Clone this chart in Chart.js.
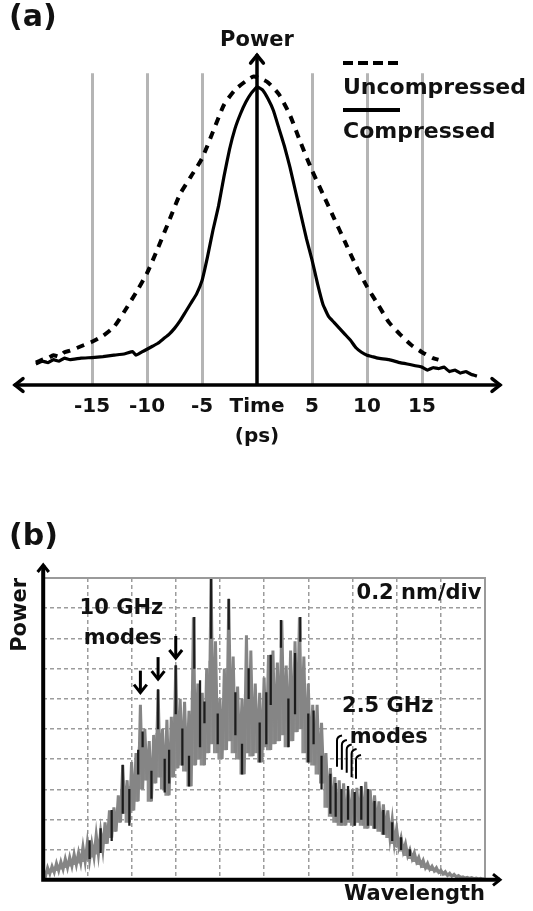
<!DOCTYPE html>
<html>
<head>
<meta charset="utf-8">
<script src="https://cdn.jsdelivr.net/npm/chart.js@4.4.1/dist/chart.umd.min.js"></script>
<style>
body{margin:0;background:#fff;}
#boxA{position:absolute;left:0;top:0;width:533px;height:465px;}
#boxB{position:absolute;left:0;top:465px;width:533px;height:446px;}
</style>
</head>
<body>
<div id="boxA"><canvas id="chartA"></canvas></div>
<div id="boxB"><canvas id="chartB"></canvas></div>
<script>
// ---- panel (a): pulse traces, time in ps, power relative to compressed peak
var timeTicks = [-15, -10, -5, 0, 5, 10, 15];
var timeLabels = ["-15", "-10", "-5", "Time", "5", "10", "15"];

var compT = [-20.1,-19.5,-19,-18.5,-18,-17.5,-17,-16,-15,-14,-13,-12,-11.3,-11,-10.5,-10,-9.5,-9,-8.5,-8,-7.5,-7,-6.5,-6,-5.5,-5,-4.5,-4,-3.5,-3,-2.5,-2,-1.5,-1,-0.5,0,0.5,1,1.5,2,2.5,3,3.5,4,4.5,5,5.5,6,6.5,7,7.5,8,8.5,9,9.5,10,10.5,11,12,13,14,15,15.5,16,16.5,17,17.5,18,18.5,19,19.5,20];
var compP = [0.07,0.08,0.075,0.085,0.08,0.09,0.085,0.09,0.092,0.095,0.1,0.105,0.112,0.1,0.11,0.12,0.13,0.14,0.155,0.17,0.19,0.215,0.245,0.275,0.305,0.35,0.43,0.52,0.6,0.7,0.79,0.86,0.91,0.95,0.98,1.0,0.99,0.96,0.92,0.86,0.8,0.73,0.65,0.57,0.49,0.42,0.34,0.27,0.23,0.21,0.19,0.17,0.15,0.125,0.11,0.1,0.095,0.09,0.085,0.075,0.068,0.06,0.05,0.058,0.055,0.06,0.045,0.05,0.04,0.045,0.035,0.03];

var uncompT = [-20.1,-19.5,-19,-18.5,-18,-17.5,-17,-16,-15,-14,-13,-12,-11,-10,-9,-8,-7,-6,-5,-4,-3,-2,-1,-0.3,0.5,1,2,3,4,5,6,7,8,9,10,11,12,13,14,15,16,16.5];
var uncompP = [0.075,0.085,0.09,0.1,0.095,0.11,0.115,0.13,0.145,0.165,0.195,0.25,0.31,0.375,0.46,0.55,0.64,0.7,0.76,0.85,0.94,0.99,1.02,1.035,1.025,1.015,0.975,0.905,0.81,0.72,0.64,0.56,0.48,0.4,0.33,0.27,0.21,0.17,0.135,0.11,0.09,0.085];

// ---- panel (b): optical spectrum, both axes in grid divisions
// specHigh = mode peaks at specX, specLow = trough just after each peak
var specX = [0,0.1,0.2,0.3,0.4,0.5,0.6,0.7,0.8,0.9,1,1.1,1.2,1.3,1.4,1.5,1.6,1.7,1.8,1.9,2,2.1,2.2,2.3,2.4,2.5,2.6,2.7,2.8,2.9,3,3.1,3.2,3.3,3.4,3.5,3.6,3.7,3.8,3.9,4,4.1,4.2,4.3,4.4,4.5,4.6,4.7,4.8,4.9,5,5.1,5.2,5.3,5.4,5.5,5.6,5.7,5.8,5.9,6,6.1,6.2,6.3,6.4,6.5,6.6,6.7,6.8,6.9,7,7.1,7.2,7.3,7.4,7.5,7.6,7.7,7.8,7.9,8,8.1,8.2,8.3,8.4,8.5,8.6,8.7,8.8,8.9,9,9.1,9.2,9.3,9.4,9.5,9.6,9.7,9.8,9.9,10];
var specLow = [0.1,0.2,0.25,0.3,0.35,0.4,0.45,0.5,0.55,0.6,0.65,0.75,0.85,1.0,1.2,1.4,1.6,1.9,2.2,1.9,2.3,2.6,3.0,3.3,2.6,3.2,3.4,3.0,2.8,3.4,3.7,3.8,3.6,3.1,3.8,4.0,3.8,4.2,4.5,4.2,4.0,4.3,4.6,4.2,4.0,3.5,4.2,4.1,4.2,3.9,4.4,4.3,4.5,4.6,4.8,4.4,4.6,4.9,5.0,4.2,3.9,3.8,3.5,3.2,2.4,2.1,1.9,1.8,1.8,1.9,1.8,1.9,1.8,1.7,1.8,1.7,1.6,1.5,1.4,1.2,1.1,0.95,0.8,0.7,0.6,0.5,0.4,0.35,0.3,0.25,0.2,0.15,0.12,0.1,0.08,0.06,0.05,0.04,0.03,0.02,0.02];
var specHigh = [0.3,0.4,0.45,0.55,0.6,0.7,0.75,0.85,0.9,1.1,1.25,1.2,1.5,1.6,1.9,2.3,2.4,2.8,3.8,3.3,3.9,4.2,5.8,5.0,4.6,4.8,6.3,5.0,5.3,5.4,7.1,6.0,5.9,5.6,8.7,6.5,6.2,7.0,10.0,7.9,6.0,7.0,9.3,7.4,6.4,6.0,8.1,7.6,6.5,6.2,6.7,7.45,7.6,7.2,8.6,7.1,7.6,7.9,8.7,7.4,6.5,5.8,5.8,5.2,4.2,3.7,3.4,3.3,3.2,3.0,3.0,3.05,3.1,3.25,3.0,2.8,2.6,2.5,2.3,2.0,1.7,1.4,1.2,1.0,0.9,0.75,0.65,0.55,0.45,0.4,0.32,0.27,0.22,0.18,0.14,0.1,0.08,0.07,0.06,0.05,0.04];

var darkX = [1.05,1.3,1.55,1.8,1.95,2.15,2.25,2.45,2.6,2.75,2.85,3.0,3.15,3.3,3.42,3.55,3.65,3.8,3.95,4.2,4.35,4.5,4.65,4.9,5.05,5.15,5.38,5.55,5.7,5.82,6.0,6.12,6.3,6.5,6.62,6.75,6.9,7.05,7.2,7.35,7.5,7.7,7.9,8.1,8.3];
var darkLow = [0.7,0.9,1.3,2.2,1.8,3.5,4.4,2.7,5.0,2.9,3.2,5.5,3.8,3.1,7.0,4.4,5.2,8.0,4.5,8.3,4.8,3.5,6.0,3.9,4.5,5.8,7.7,4.4,5.5,7.9,3.9,4.5,3.0,2.2,2.1,1.9,2.0,1.8,2.0,1.8,1.7,1.5,1.3,1.0,0.8];
var darkHigh = [1.3,1.7,2.3,3.8,3.0,4.3,4.9,3.6,6.3,4.0,4.3,7.1,5.0,4.1,8.7,6.6,5.9,10.0,5.5,9.3,6.2,4.5,7.0,5.2,6.2,7.45,8.6,6.0,7.5,8.7,5.5,5.6,4.1,3.5,3.2,3.0,3.1,2.9,3.1,3.0,2.6,2.3,1.9,1.4,1.0];

// annotation anchors (data units)
var modeArrowX = [2.2, 2.6, 3.0];
var modeArrowTip = [6.2, 6.65, 7.35];
var fineModeX = [6.65, 6.76, 6.87, 6.98, 7.08];
var fineModeTop = [4.75, 4.6, 4.45, 4.3, 4.1];
var fineModeBottom = [3.75, 3.65, 3.55, 3.4, 3.35];

Chart.defaults.font.family = "'DejaVu Sans', sans-serif";
Chart.defaults.font.weight = "bold";
Chart.defaults.font.size = 20;
Chart.defaults.color = "#111";

function toPts(xs, ys){
    return xs.map(function(v, i){ return {x: v, y: ys[i]}; });
}

function chevron(ctx, tx, ty, dx, dy, s){
    // open arrow head pointing in direction (dx,dy)
    var px = -dy, py = dx;
    ctx.beginPath();
    ctx.moveTo(tx - dx*s + px*s*0.8, ty - dy*s + py*s*0.8);
    ctx.lineTo(tx, ty);
    ctx.lineTo(tx - dx*s - px*s*0.8, ty - dy*s - py*s*0.8);
    ctx.stroke();
}

var panelA = {
    id: "panelA",
    afterDraw: function(chart){
        var ctx = chart.ctx, xs = chart.scales.x, ys = chart.scales.y, a = chart.chartArea;
        var y0 = ys.getPixelForValue(0), x0 = xs.getPixelForValue(0);
        ctx.save();
        ctx.strokeStyle = "#000";
        ctx.lineWidth = 3.5;
        ctx.lineCap = "round";
        ctx.beginPath();
        ctx.moveTo(a.left, y0); ctx.lineTo(a.right + 1, y0);
        ctx.moveTo(x0, y0); ctx.lineTo(x0, a.top - 18);
        ctx.stroke();
        chevron(ctx, a.left, y0, -1, 0, 8);
        chevron(ctx, a.right + 1, y0, 1, 0, 8);
        chevron(ctx, x0, a.top - 18, 0, -1, 8);

        // legend
        ctx.lineWidth = 4;
        ctx.lineCap = "butt";
        ctx.setLineDash([10, 5]);
        ctx.beginPath(); ctx.moveTo(343, 63); ctx.lineTo(400, 63); ctx.stroke();
        ctx.setLineDash([]);
        ctx.beginPath(); ctx.moveTo(343, 110); ctx.lineTo(400, 110); ctx.stroke();
        ctx.fillStyle = "#111";
        ctx.textBaseline = "middle";
        ctx.textAlign = "left";
        ctx.font = "bold 22px 'DejaVu Sans'";
        ctx.fillText("Uncompressed", 343, 88);
        ctx.fillText("Compressed", 343, 132);
        ctx.font = "bold 30px 'DejaVu Sans'";
        ctx.fillText("(a)", 9, 18);
        ctx.restore();
    }
};

new Chart("chartA", {
    type: "line",
    data: {
        datasets: [{
            label: "Compressed",
            data: toPts(compT, compP),
            borderColor: "#000",
            borderWidth: 3.2,
            pointRadius: 0,
            tension: 0.1
        }, {
            label: "Uncompressed",
            data: toPts(uncompT, uncompP),
            borderColor: "#000",
            borderWidth: 4,
            borderDash: [8, 7],
            pointRadius: 0,
            tension: 0.2
        }]
    },
    options: {
        responsive: true,
        maintainAspectRatio: false,
        animation: false,
        layout: {padding: {left: 15, right: 34, top: 0, bottom: 0}},
        plugins: {
            legend: {display: false},
            tooltip: {enabled: false},
            title: {display: true, text: "Power", font: {size: 21, weight: "bold"}, padding: {top: 28, bottom: 20}, color: "#111"}
        },
        scales: {
            x: {
                type: "linear", min: -22, max: 22,
                afterBuildTicks: function(s){ s.ticks = timeTicks.map(function(v){ return {value: v}; }); },
                ticks: {
                    autoSkip: false, maxRotation: 0, padding: 10,
                    callback: function(v){ return timeLabels[timeTicks.indexOf(v)]; }
                },
                grid: {
                    drawTicks: false, lineWidth: 3,
                    color: function(c){ return c.tick && c.tick.value === 0 ? "rgba(0,0,0,0)" : "#b5b5b5"; }
                },
                border: {display: false},
                title: {display: true, text: "(ps)", font: {size: 20, weight: "bold"}, padding: {top: -4, bottom: 16}}
            },
            y: {display: false, min: 0, max: 1.046}
        }
    },
    plugins: [panelA]
});

var panelB = {
    id: "panelB",
    afterDraw: function(chart){
        var ctx = chart.ctx, xs = chart.scales.x, ys = chart.scales.y, a = chart.chartArea;
        ctx.save();
        ctx.strokeStyle = "#9a9a9a";
        ctx.lineWidth = 2;
        ctx.strokeRect(a.left, a.top, a.right - a.left, a.bottom - a.top);

        ctx.strokeStyle = "#000";
        ctx.lineWidth = 4;
        ctx.beginPath();
        ctx.moveTo(a.left, a.top - 13); ctx.lineTo(a.left, a.bottom);
        ctx.lineTo(a.right + 15, a.bottom);
        ctx.stroke();
        ctx.lineWidth = 3;
        chevron(ctx, a.left, a.top - 13, 0, -1, 7);
        chevron(ctx, a.right + 15, a.bottom, 1, 0, 7);

        // 10 GHz mode arrows
        ctx.lineWidth = 3;
        modeArrowX.forEach(function(v, i){
            var px = xs.getPixelForValue(v), tip = ys.getPixelForValue(modeArrowTip[i]);
            ctx.beginPath(); ctx.moveTo(px, tip - 22); ctx.lineTo(px, tip); ctx.stroke();
            chevron(ctx, px, tip, 0, 1, 8);
        });
        // 2.5 GHz mode hooks
        ctx.lineWidth = 2;
        fineModeX.forEach(function(v, i){
            var px = xs.getPixelForValue(v), t = ys.getPixelForValue(fineModeTop[i]), b = ys.getPixelForValue(fineModeBottom[i]);
            ctx.beginPath();
            ctx.moveTo(px, b); ctx.lineTo(px, t + 4);
            ctx.quadraticCurveTo(px, t, px + 5, t - 1);
            ctx.stroke();
        });

        ctx.fillStyle = "#111";
        ctx.textBaseline = "middle";
        ctx.font = "bold 21px 'DejaVu Sans'";
        ctx.textAlign = "center";
        ctx.fillText("10 GHz", xs.getPixelForValue(1.77), ys.getPixelForValue(9.0));
        ctx.fillText("modes", xs.getPixelForValue(1.8), ys.getPixelForValue(8.0));
        ctx.fillText("2.5 GHz", xs.getPixelForValue(7.8), ys.getPixelForValue(5.73));
        ctx.fillText("modes", xs.getPixelForValue(7.82), ys.getPixelForValue(4.73));
        ctx.textAlign = "right";
        ctx.fillText("0.2 nm/div", xs.getPixelForValue(9.92), ys.getPixelForValue(9.5));
        ctx.textAlign = "left";
        ctx.font = "bold 30px 'DejaVu Sans'";
        ctx.fillText("(b)", 9, 72);
        ctx.restore();
    }
};

var gridB = {drawTicks: false, color: "#9c9c9c", lineWidth: 1.5};

// zig-zag trace: each mode peak followed by its trough
var specTrace = [];
specX.forEach(function(v, i){
    specTrace.push({x: v, y: specHigh[i]});
    specTrace.push({x: v + 0.05, y: specLow[i]});
});

new Chart("chartB", {
    type: "bar",
    data: {
        datasets: [{
            label: "spikes",
            data: darkX.map(function(v, i){ return {x: v, y: [darkLow[i], darkHigh[i]]}; }),
            backgroundColor: "#1c1c1c",
            barThickness: 1.6,
            grouped: false,
            borderSkipped: false,
            order: 1
        }, {
            type: "line",
            label: "spectrum",
            data: specTrace,
            borderColor: "#858585",
            borderWidth: 3,
            pointRadius: 0,
            tension: 0,
            order: 2
        }, {
            label: "band",
            data: specX.map(function(v, i){ return {x: v, y: [specLow[i], specHigh[i] * 0.5 + specLow[i] * 0.5]}; }),
            backgroundColor: "#8f8f8f",
            barThickness: 4.4,
            grouped: false,
            borderSkipped: false,
            order: 3
        }]
    },
    options: {
        responsive: true,
        maintainAspectRatio: false,
        animation: false,
        layout: {padding: {left: 8, right: 48, top: 113, bottom: 0}},
        plugins: {legend: {display: false}, tooltip: {enabled: false}},
        scales: {
            x: {
                type: "linear", min: 0, max: 10, offset: false,
                ticks: {display: false, stepSize: 1},
                grid: Object.assign({offset: false}, gridB),
                border: {display: false, dash: [4, 3]},
                title: {display: true, text: "Wavelength", align: "end", font: {size: 21, weight: "bold"}, padding: {top: 2, bottom: 4}}
            },
            y: {
                min: 0, max: 10,
                ticks: {display: false, stepSize: 1},
                grid: gridB,
                border: {display: false, dash: [4, 3]},
                title: {display: true, text: "Power", align: "end", font: {size: 21, weight: "bold"}, padding: {top: 0, bottom: 10}}
            }
        }
    },
    plugins: [panelB]
});
</script>
</body>
</html>
